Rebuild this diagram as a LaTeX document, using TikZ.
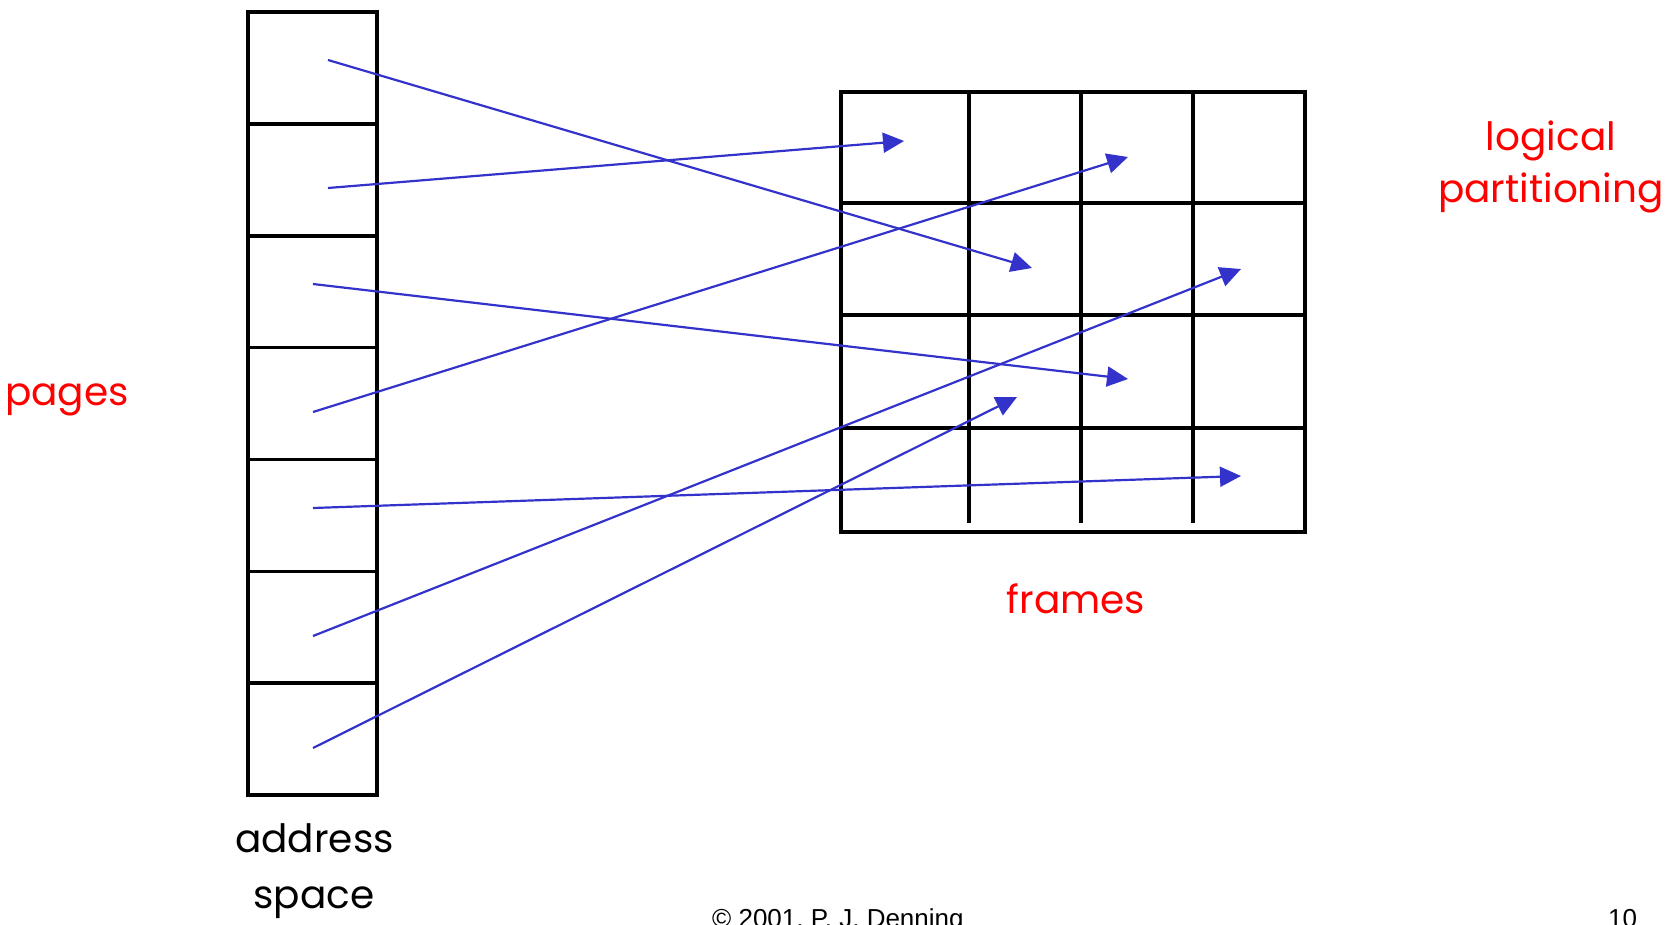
\documentclass[tikz,border=0pt]{standalone}
\usepackage{fontspec}
\setmainfont{Poppins}
\newfontfamily\footfont{Liberation Sans}
\usetikzlibrary{arrows.meta}
\definecolor{mapblue}{RGB}{51,51,204}
\definecolor{labelred}{RGB}{255,0,0}
\begin{document}
\begin{tikzpicture}[x=1pt,y=-1pt,
  boxline/.style={line width=3.6pt,black},
  gridline/.style={line width=3.4pt,black},
  maparrow/.style={line width=2.2pt,mapblue,-{Triangle[length=21pt,width=20pt]}},
  label/.style={font=\fontsize{39}{45}\selectfont,anchor=base,inner sep=0pt},
  redlabel/.style={label,text=labelred},
  foot/.style={font=\footfont\fontsize{26}{30}\selectfont,anchor=base west,inner sep=0pt}]
\useasboundingbox (0,0) rectangle (1679,924);
\clip (0,0) rectangle (1679,924);

% address space: a column of seven pages
\draw[boxline] (248,12) rectangle (377,795);
\foreach \y in {123.9,235.7,347.6,459.4,571.3,683.1}
  \draw[boxline] (248,\y) -- (377,\y);

% physical memory: a grid of frames
\draw[gridline] (841,92) rectangle (1305,532);
\foreach \y in {203,315,428}
  \draw[gridline] (841,\y) -- (1305,\y);
\foreach \x in {969,1081,1193}
  \draw[gridline] (\x,92) -- (\x,523);

% where each page is placed
\coordinate (p1) at (328,60);
\coordinate (p2) at (328,188);
\coordinate (p3) at (313,284);
\coordinate (p4) at (313,412);
\coordinate (p5) at (313,508);
\coordinate (p6) at (313,636);
\coordinate (p7) at (313,748);

\coordinate (f1) at (1032,268);
\coordinate (f2) at (904,141);
\coordinate (f3) at (1128,379);
\coordinate (f4) at (1128,157);
\coordinate (f5) at (1241,476);
\coordinate (f6) at (1241,269);
\coordinate (f7) at (1017,397);

\foreach \i in {1,...,7}
  \draw[maparrow] (p\i) -- (f\i);

% labels
\node[redlabel] (pages) at (67,405) {pages};
\node[redlabel] (frames) at (1076,613) {frames};
\node[redlabel] (logical) at (1551,150) {logical};
\node[redlabel] (partitioning) at (1551,202) {partitioning};
\node[label] (address) at (314.5,852) {address};
\node[label] (space) at (314,908) {space};

% footer, running off the lower edge
\node[foot] (copyright) at (712,927) {© 2001, P. J. Denning};
\node[foot] (pagenum) at (1608,927) {10};
\end{tikzpicture}
\end{document}
